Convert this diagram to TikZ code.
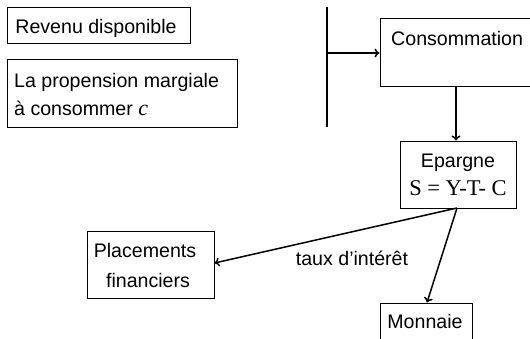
\documentclass[tikz,border=0pt]{standalone}
\usepackage{fontspec}
\setmainfont{Liberation Sans}
\newfontfamily\serifrm{Liberation Serif}
\usetikzlibrary{arrows.meta}
\begin{document}
\begin{tikzpicture}[x=1pt,y=-1pt,
  box/.style={draw, line width=1pt, inner sep=0pt},
  txt/.style={inner sep=0pt, font=\fontsize{19.6}{28}\selectfont, align=center},
  conn/.style={line width=1.5pt, -{To[length=5pt,width=9pt,line width=1.5pt]}}]
\useasboundingbox (0,0) rectangle (530,338);
% boxes
\node[box, minimum width=183pt, minimum height=36pt] (rev) at (98.5,25) {};
\node[box, minimum width=230pt, minimum height=68pt] (prop) at (122,93) {};
\node[box, minimum width=160pt, minimum height=68pt] (cons) at (460,52) {};
\node[box, minimum width=116pt, minimum height=67pt] (ep) at (458,174.5) {};
\node[box, minimum width=127pt, minimum height=67pt] (pl) at (150.5,264.5) {};
\node[box, minimum width=92pt, minimum height=60pt] (mon) at (426,333) {};
% texts
\node[txt, anchor=base] (trev) at (96,33) {Revenu disponible};
\node[txt, anchor=base west, align=left] (tprop1) at (14,87) {La propension margiale};
\node[txt, anchor=base west, align=left] (tprop2) at (14,115) {à consommer {\serifrm\itshape\fontsize{22}{26}\selectfont c}};
\node[txt, anchor=base west] (tcons) at (391,45) {Consommation};
\node[txt, anchor=base] (tep1) at (458,167) {Epargne};
\node[txt, anchor=base] (tep2) at (458,195) {\serifrm\fontsize{22.5}{26}\selectfont S = Y-T- C};
\node[txt, anchor=base] (tpl1) at (145,257) {Placements};
\node[txt, anchor=base] (tpl2) at (148,287) {financiers};
\node[txt, anchor=base] (tmon) at (425,328) {Monnaie};
\node[txt, anchor=base] (ttaux) at (352,265) {taux d’intérêt};
% connectors
\coordinate (vt) at (327,7);
\coordinate (vb) at (327,127);
\coordinate (vm) at (327,53);
\coordinate (epb) at (457,208);
\draw[line width=1.7pt] (vt) -- (vb);
\draw[conn] (vm) -- (vm -| cons.west);
\draw[conn] (cons.south -| 456,0) -- (456,140.5);
\draw[conn] (epb) -- (pl.east |- 0,263);
\draw[conn] (epb) -- (427,302.5);
\end{tikzpicture}
\end{document}
